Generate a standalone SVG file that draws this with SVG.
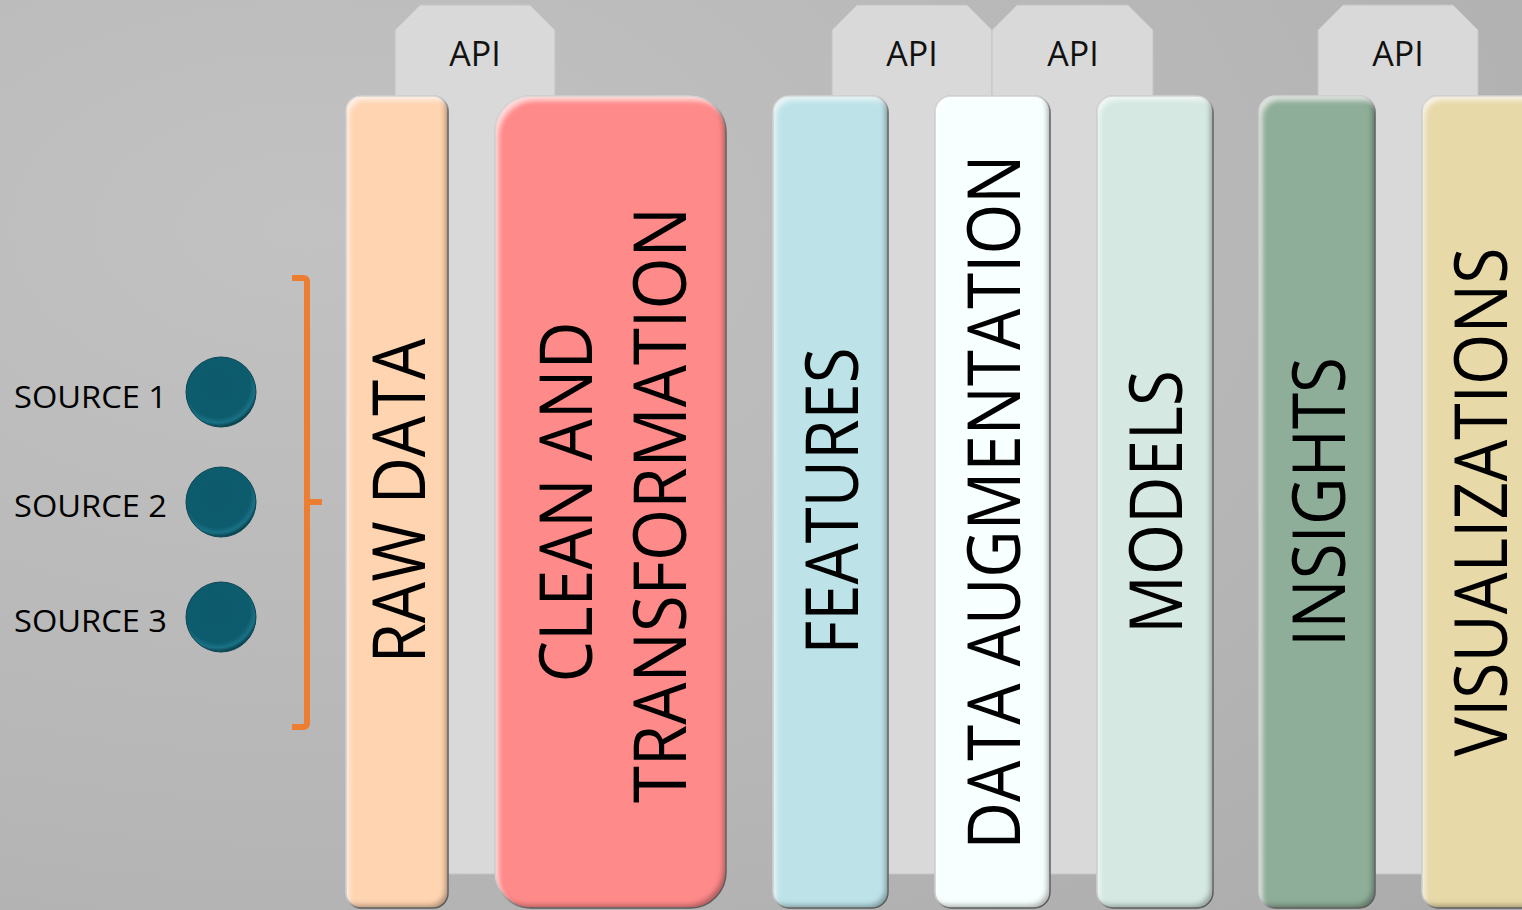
<svg xmlns="http://www.w3.org/2000/svg" width="1522" height="910" viewBox="0 0 1522 910">
  <defs>
    <radialGradient id="bg" cx="0.2" cy="0.25" r="1.1">
      <stop offset="0" stop-color="#c2c2c2"/>
      <stop offset="0.6" stop-color="#b6b6b6"/>
      <stop offset="1" stop-color="#ababab"/>
    </radialGradient>
    <filter id="bevel" x="-5%" y="-2%" width="110%" height="104%">
      <feGaussianBlur in="SourceAlpha" stdDeviation="2.5" result="blur"/>
      <feOffset in="blur" dx="-4" dy="-4" result="offUL"/>
      <feComposite in="SourceAlpha" in2="offUL" operator="out" result="shadowEdge"/>
      <feFlood flood-color="#000" flood-opacity="0.55"/>
      <feComposite in2="shadowEdge" operator="in" result="shadow"/>
      <feOffset in="blur" dx="4" dy="5" result="offDR"/>
      <feComposite in="SourceAlpha" in2="offDR" operator="out" result="hlEdge"/>
      <feFlood flood-color="#fff" flood-opacity="0.6"/>
      <feComposite in2="hlEdge" operator="in" result="hl"/>
      <feMerge>
        <feMergeNode in="SourceGraphic"/>
        <feMergeNode in="shadow"/>
        <feMergeNode in="hl"/>
      </feMerge>
    </filter>
    <radialGradient id="dot" cx="0.45" cy="0.4" r="0.6">
      <stop offset="0" stop-color="#0c5a6b"/>
      <stop offset="0.78" stop-color="#0d5c6e"/>
      <stop offset="0.9" stop-color="#1a7185"/>
      <stop offset="1" stop-color="#083f4d"/>
    </radialGradient>
    <style>
      .tab { fill: #d9d9d9; stroke: #c4c4c4; stroke-width: 1; }
      .api { font-family: "Open Sans", "Noto Sans", sans-serif; font-size: 34px; fill: #111; text-anchor: middle; }
      .col { stroke: #858585; stroke-width: 1.5; filter: url(#bevel); }
      .lbl { font-family: "Open Sans", "Noto Sans", sans-serif; font-size: 73px; fill: #000; text-anchor: middle; }
      .src { font-family: "Open Sans", "Noto Sans", sans-serif; font-size: 31px; fill: #000; }
      .bracket { fill: none; stroke: #ed7d31; stroke-width: 6; stroke-linejoin: round; }
    </style>
  </defs>

  <rect x="0" y="0" width="1522" height="910" fill="url(#bg)"/>

  <g id="api-tabs">
    <g id="api-1">
      <path class="tab" d="M395,874 V30 L420,5 H530 L555,30 V874 Z"/>
      <text class="api" x="475" y="66">API</text>
    </g>
    <g id="api-2">
      <path class="tab" d="M832,874 V30 L857,5 H967 L992,30 V874 Z"/>
      <text class="api" x="912" y="66">API</text>
    </g>
    <g id="api-3">
      <path class="tab" d="M992,874 V30 L1017,5 H1128 L1153,30 V874 Z"/>
      <text class="api" x="1073" y="66">API</text>
    </g>
    <g id="api-4">
      <path class="tab" d="M1318,874 V30 L1343,5 H1453 L1478,30 V874 Z"/>
      <text class="api" x="1398" y="66">API</text>
    </g>
  </g>

  <g id="raw-data">
    <rect class="col" x="346" y="96" width="102" height="812" rx="15" fill="#ffd4b0"/>
    <text class="lbl" transform="translate(425,501) rotate(-90)" textLength="325" lengthAdjust="spacingAndGlyphs">RAW DATA</text>
  </g>
  <g id="clean-transformation">
    <rect class="col" x="495" y="96" width="231" height="812" rx="36" fill="#ff8a8a"/>
    <text class="lbl" transform="translate(592,502) rotate(-90)" textLength="361" lengthAdjust="spacingAndGlyphs">CLEAN AND</text>
    <text class="lbl" transform="translate(686,505) rotate(-90)" textLength="596" lengthAdjust="spacingAndGlyphs">TRANSFORMATION</text>
  </g>
  <g id="features">
    <rect class="col" x="773" y="96" width="115" height="812" rx="16" fill="#bde3e8"/>
    <text class="lbl" transform="translate(858,501) rotate(-90)" textLength="307" lengthAdjust="spacingAndGlyphs">FEATURES</text>
  </g>
  <g id="data-augmentation">
    <rect class="col" x="935" y="96" width="115" height="812" rx="16" fill="#f7ffff"/>
    <text class="lbl" transform="translate(1020,502) rotate(-90)" textLength="695" lengthAdjust="spacingAndGlyphs">DATA AUGMENTATION</text>
  </g>
  <g id="models">
    <rect class="col" x="1097" y="96" width="116" height="812" rx="16" fill="#d5e8e2"/>
    <text class="lbl" transform="translate(1182,502) rotate(-90)" textLength="264" lengthAdjust="spacingAndGlyphs">MODELS</text>
  </g>
  <g id="insights">
    <rect class="col" x="1259" y="96" width="116" height="812" rx="16" fill="#8fae99"/>
    <text class="lbl" transform="translate(1345,502) rotate(-90)" textLength="290" lengthAdjust="spacingAndGlyphs">INSIGHTS</text>
  </g>
  <g id="visualizations">
    <rect class="col" x="1422" y="96" width="130" height="812" rx="16" fill="#e8d9a8"/>
    <text class="lbl" transform="translate(1507,502) rotate(-90)" textLength="509" lengthAdjust="spacingAndGlyphs">VISUALIZATIONS</text>
  </g>

  <g id="source-1">
    <circle cx="221" cy="392" r="35" fill="url(#dot)" stroke="#0a4553" stroke-width="1"/>
    <text class="src" x="14" y="408" textLength="153" lengthAdjust="spacingAndGlyphs">SOURCE 1</text>
  </g>
  <g id="source-2">
    <circle cx="221" cy="502" r="35" fill="url(#dot)" stroke="#0a4553" stroke-width="1"/>
    <text class="src" x="14" y="517" textLength="153" lengthAdjust="spacingAndGlyphs">SOURCE 2</text>
  </g>
  <g id="source-3">
    <circle cx="221" cy="617" r="35" fill="url(#dot)" stroke="#0a4553" stroke-width="1"/>
    <text class="src" x="14" y="632" textLength="153" lengthAdjust="spacingAndGlyphs">SOURCE 3</text>
  </g>

  <g id="connectors">
    <path class="bracket" d="M292,278 H303 Q307,278 307,282 V722 Q307,727 303,727 H292 M307,502 H322"/>
  </g>
</svg>
